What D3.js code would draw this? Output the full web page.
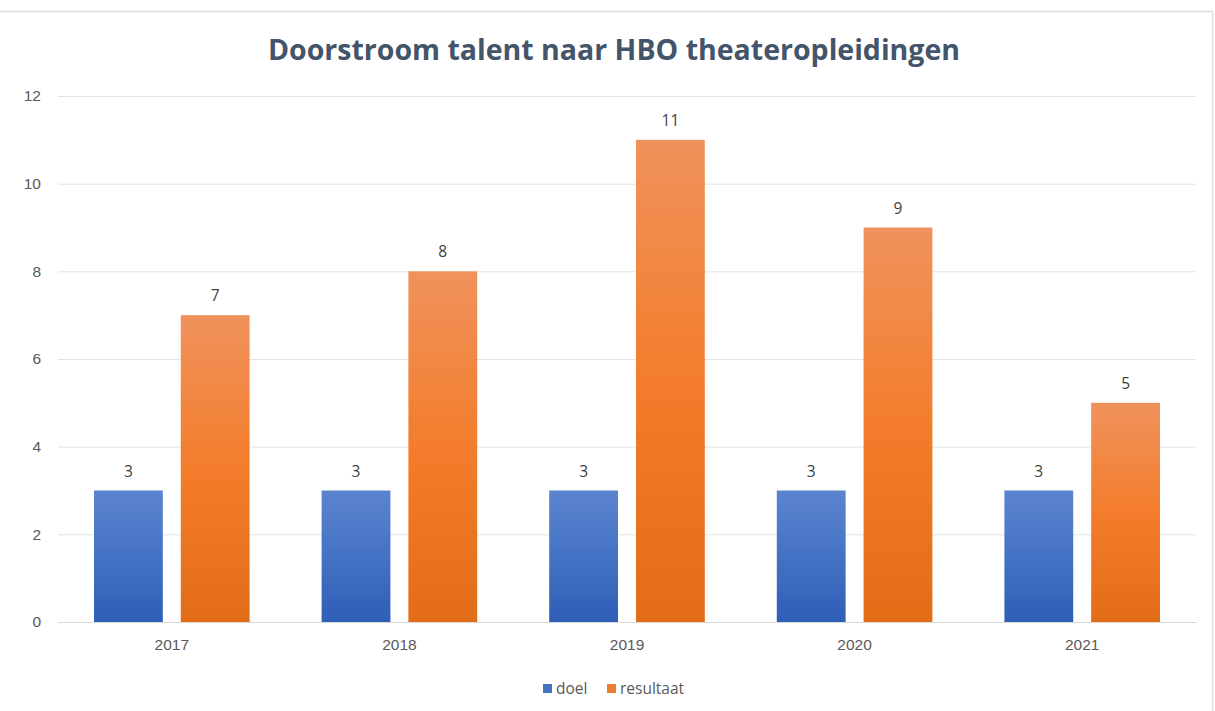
<!DOCTYPE html>
<html>
<head>
<meta charset="utf-8">
<script src="https://cdn.jsdelivr.net/npm/d3@7"></script>
<style>
  body { margin: 0; background: #fff; }
  svg { display: block; font-family: "Open Sans", "Noto Sans", sans-serif; }
</style>
</head>
<body>
<div id="chart"></div>
<script>
// chart data
var years = ["2017", "2018", "2019", "2020", "2021"];
var doel = [3, 3, 3, 3, 3];
var resultaat = [7, 8, 11, 9, 5];
var seriesNames = ["doel", "resultaat"];
var yTicks = [0, 2, 4, 6, 8, 10, 12];
var title = "Doorstroom talent naar HBO theateropleidingen";

var W = 1215, H = 711;
var margin = { top: 96, right: 19, bottom: 89, left: 58 },
    width = W - margin.left - margin.right,
    height = H - margin.top - margin.bottom;

var svg = d3.select("#chart").append("svg")
    .attr("width", W)
    .attr("height", H);

// frame around the chart (screenshot border)
svg.append("rect")
    .attr("x", -2).attr("y", 11.5)
    .attr("width", 1214.5).attr("height", 720)
    .style("fill", "#fff")
    .style("stroke", "#dedede")
    .style("stroke-width", 1.5);

// gradients for the bars
var defs = svg.append("defs");
function grad(id, top, mid, bottom) {
    var g = defs.append("linearGradient").attr("id", id)
        .attr("x1", 0).attr("y1", 0).attr("x2", 0).attr("y2", 1);
    g.append("stop").attr("offset", "0%").attr("stop-color", top);
    g.append("stop").attr("offset", "50%").attr("stop-color", mid);
    g.append("stop").attr("offset", "100%").attr("stop-color", bottom);
}
grad("g-doel", "#5b84cf", "#4472c4", "#2e5eb6");
grad("g-res", "#f0925c", "#f37d2c", "#e36c17");
var fills = { doel: "url(#g-doel)", resultaat: "url(#g-res)" };
var legendColors = { doel: "#4472c4", resultaat: "#ed7d31" };

var rows = years.map(function (y, i) {
    return { year: y, doel: doel[i], resultaat: resultaat[i] };
});

var x0 = d3.scaleBand().domain(years).range([0, width]).padding(0);
var x1 = d3.scaleBand().domain(seriesNames)
    .range([36, x0.bandwidth() - 36])
    .paddingInner(0.207).paddingOuter(0);
var y = d3.scaleLinear().domain([0, 12]).range([height, 0]);

var g = svg.append("g")
    .attr("transform", "translate(" + margin.left + "," + margin.top + ")");

// gridlines
g.append("g")
    .call(d3.axisLeft(y).tickValues(yTicks).tickSize(-width).tickFormat(""))
    .call(function (s) {
        s.select(".domain").remove();
        s.selectAll("line").style("stroke", "#e3e3e3").style("stroke-width", 1);
    });

// y axis labels
g.append("g")
    .call(d3.axisLeft(y).tickValues(yTicks).tickSize(0).tickPadding(17))
    .call(function (s) {
        s.select(".domain").remove();
        s.selectAll("text").style("font-size", "15.5px").style("fill", "#595959");
    });

// bars
var groups = g.selectAll(".year")
    .data(rows)
    .enter().append("g")
    .attr("class", "year")
    .attr("transform", function (d) { return "translate(" + x0(d.year) + ",0)"; });

groups.selectAll("rect")
    .data(function (d) { return seriesNames.map(function (k) { return { key: k, value: d[k] }; }); })
    .enter().append("rect")
    .attr("x", function (d) { return x1(d.key); })
    .attr("y", function (d) { return y(d.value); })
    .attr("width", x1.bandwidth())
    .attr("height", function (d) { return height - y(d.value); })
    .style("fill", function (d) { return fills[d.key]; });

// data labels
groups.selectAll(".lbl")
    .data(function (d) { return seriesNames.map(function (k) { return { key: k, value: d[k] }; }); })
    .enter().append("text")
    .attr("class", "lbl")
    .attr("x", function (d) { return x1(d.key) + x1.bandwidth() / 2; })
    .attr("y", function (d) { return y(d.value) - 14; })
    .style("text-anchor", "middle")
    .style("font-size", "15.5px")
    .style("fill", "#404040")
    .text(function (d) { return d.value; });

// x axis
g.append("g")
    .attr("transform", "translate(0," + height + ")")
    .call(d3.axisBottom(x0).tickSize(0).tickPadding(17))
    .call(function (s) {
        s.select(".domain").style("stroke", "#d9d9d9");
        s.selectAll("text").style("font-size", "15.5px").style("fill", "#595959");
    });

// title
svg.append("text")
    .attr("x", 614)
    .attr("y", 60)
    .style("text-anchor", "middle")
    .style("font-size", "28.5px")
    .style("font-weight", "bold")
    .style("fill", "#44546a")
    .text(title);

// legend
var legend = svg.append("g").attr("transform", "translate(543,689)");
var lx = [0, 64];
seriesNames.forEach(function (k, i) {
    legend.append("rect")
        .attr("x", lx[i]).attr("y", -5)
        .attr("width", 9).attr("height", 9)
        .style("fill", legendColors[k]);
    legend.append("text")
        .attr("x", lx[i] + 13).attr("y", 0)
        .attr("dy", "0.35em")
        .style("font-size", "15.5px")
        .style("fill", "#595959")
        .text(k);
});
</script>
</body>
</html>
